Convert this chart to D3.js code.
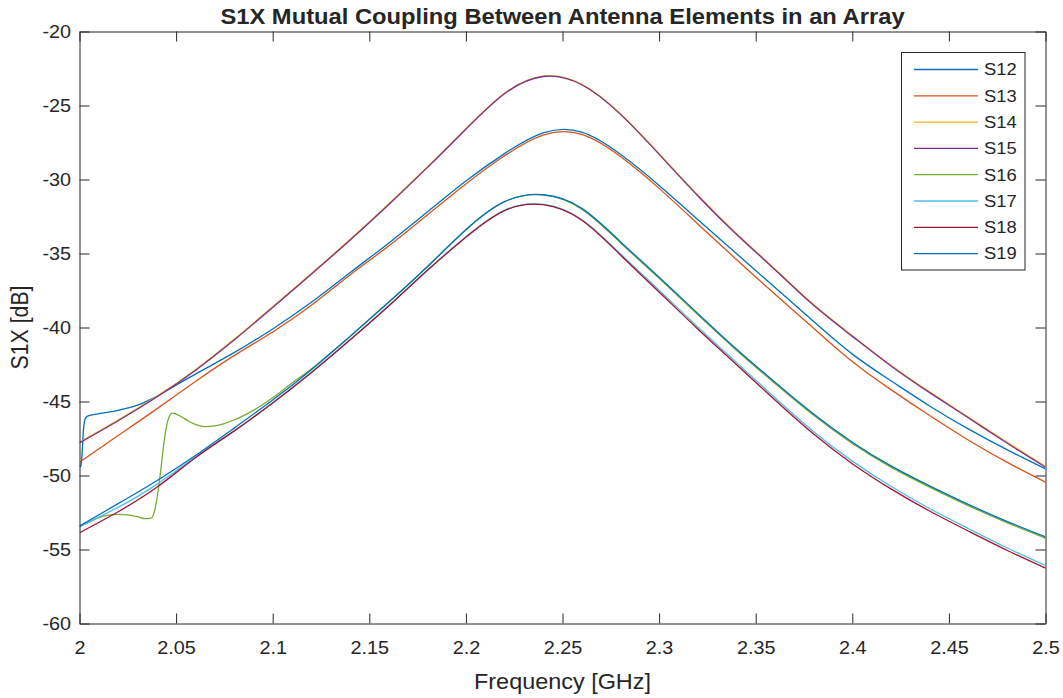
<!DOCTYPE html>
<html><head><meta charset="utf-8">
<script src="https://cdn.jsdelivr.net/npm/d3@7"></script>
<style>
body{margin:0;background:#fff;}
text{font-family:"Liberation Sans",Arial,Helvetica,sans-serif;fill:#262626;}
</style>
</head><body>
<svg id="chart" width="1063" height="698"></svg>
<script>
// ---------------- data ----------------
const freqBase = [2.00,2.02,2.04,2.06,2.08,2.10,2.12,2.14,2.16,2.18,2.20,2.22,2.24,2.26,2.28,2.30,2.32,2.34,2.36,2.38,2.40,2.42,2.44,2.46,2.48,2.50];

const freqS12 = [2.000,2.0005,2.001,2.0015,2.002,2.0025,2.003,2.004,2.006,2.01,2.02,2.03,2.04,
  2.06,2.08,2.10,2.12,2.14,2.16,2.18,2.20,2.22,2.24,2.26,2.28,2.30,2.32,2.34,2.36,2.38,2.40,2.42,2.44,2.46,2.48,2.50];
const valsS12 = [-49.3,-49.4,-49.1,-48.2,-47.0,-46.4,-46.15,-46.0,-45.92,-45.82,-45.6,-45.25,-44.65,
  -43.15,-41.7,-40.1,-38.3,-36.3,-34.3,-32.2,-30.1,-28.25,-26.85,-26.8,-28.3,-30.4,-32.7,-35.0,-37.3,-39.6,-41.8,-43.6,-45.3,-46.85,-48.25,-49.55];

const valsS13 = [-49.1,-47.3,-45.5,-43.65,-41.9,-40.3,-38.5,-36.45,-34.5,-32.4,-30.3,-28.4,-27.0,-26.95,-28.45,-30.6,-33.0,-35.4,-37.75,-40.05,-42.3,-44.2,-45.95,-47.6,-49.1,-50.45];
const valsS14 = [-47.75,-46.25,-44.65,-42.85,-40.8,-38.6,-36.35,-34.05,-31.65,-29.15,-26.56,-24.17,-23.01,-23.57,-25.56,-28.25,-31.05,-33.65,-36.05,-38.45,-40.55,-42.55,-44.35,-46.05,-47.74,-49.38];
const valsS15 = [-47.8,-46.3,-44.7,-42.9,-40.85,-38.65,-36.4,-34.1,-31.7,-29.2,-26.6,-24.2,-23.04,-23.6,-25.6,-28.3,-31.1,-33.7,-36.1,-38.5,-40.6,-42.6,-44.4,-46.1,-47.8,-49.44];

const freqS16 = [2.000,2.005,2.010,2.015,2.020,2.025,2.030,2.034,2.037,2.039,2.0405,2.042,2.0435,2.045,2.0465,2.048,2.050,2.053,2.056,2.060,2.065,2.070,2.080,2.090,2.100,2.110,2.120,2.130,2.140,
  2.16,2.18,2.20,2.22,2.24,2.26,2.28,2.30,2.32,2.34,2.36,2.38,2.40,2.42,2.44,2.46,2.48,2.50];
const valsS16 = [-53.45,-53.15,-52.85,-52.68,-52.62,-52.66,-52.78,-52.92,-52.88,-52.3,-51.2,-49.7,-48.0,-46.7,-46.0,-45.78,-45.85,-46.05,-46.3,-46.55,-46.7,-46.65,-46.25,-45.6,-44.75,-43.75,-42.8,-41.72,-40.62,
  -38.3,-35.9,-33.4,-31.5,-31.04,-32.0,-34.27,-36.68,-39.13,-41.53,-43.78,-45.93,-47.83,-49.43,-50.78,-52.03,-53.18,-54.23];

const valsS17 = [-53.45,-52.15,-50.6,-48.75,-46.98,-45.08,-43.03,-40.83,-38.53,-36.13,-33.87,-32.08,-31.68,-32.7,-35.02,-37.48,-39.96,-42.36,-44.75,-47.04,-49.03,-50.73,-52.23,-53.58,-54.88,-56.08];
const valsS18 = [-53.87,-52.45,-50.8,-48.8,-47.0,-45.1,-43.05,-40.85,-38.55,-36.15,-33.9,-32.1,-31.7,-32.75,-35.1,-37.6,-40.1,-42.5,-44.9,-47.2,-49.2,-50.9,-52.4,-53.75,-55.05,-56.26];
const valsS19 = [-53.42,-51.9,-50.35,-48.65,-46.8,-44.9,-42.85,-40.6,-38.3,-35.9,-33.4,-31.5,-31.03,-31.95,-34.2,-36.6,-39.05,-41.45,-43.7,-45.85,-47.75,-49.35,-50.7,-51.95,-53.1,-54.14];

const seriesNames = ["S12","S13","S14","S15","S16","S17","S18","S19"];
const seriesColors = ["#0072BD","#D95319","#EDB120","#7E2F8E","#77AC30","#4DBEEE","#A2142F","#0072BD"];
const xTicks = [2,2.05,2.1,2.15,2.2,2.25,2.3,2.35,2.4,2.45,2.5];
const yTicks = [-60,-55,-50,-45,-40,-35,-30,-25,-20];
const titleText = "S1X Mutual Coupling Between Antenna Elements in an Array";
const xLabelText = "Frequency [GHz]";
const yLabelText = "S1X [dB]";

// [frequencies, values, frequency where the fine-sampled part ends]
const seriesData = [
  [freqS12, valsS12, 2.04],
  [freqBase, valsS13, null],
  [freqBase, valsS14, null],
  [freqBase, valsS15, null],
  [freqS16, valsS16, 2.14],
  [freqBase, valsS17, null],
  [freqBase, valsS18, null],
  [freqBase, valsS19, null]
];

// ---------------- layout ----------------
const L = 79.5, R = 1045.5, T = 31.5, B = 623.5;
const SX = 1.1; // horizontal stretch of the reference's text
const svg = d3.select("#chart");
const x = d3.scaleLinear().domain([2, 2.5]).range([L, R]);
const y = d3.scaleLinear().domain([-60, -20]).range([B, T]);
const axisColor = "#262626";

svg.append("rect").attr("x",0).attr("y",0).attr("width",1063).attr("height",698).attr("fill","#fff");
svg.append("defs").append("clipPath").attr("id","clip")
  .append("rect").attr("x",L).attr("y",T).attr("width",R-L).attr("height",B-T);

// lines
const lineSmooth = d3.line().x(d => x(d[0])).y(d => y(d[1])).curve(d3.curveNatural);
const lineFine = d3.line().x(d => x(d[0])).y(d => y(d[1])).curve(d3.curveMonotoneX);
const gLines = svg.append("g").attr("clip-path","url(#clip)");
seriesData.forEach((s, i) => {
  const pts = s[0].map((f, k) => [f, s[1][k]]);
  const split = s[2];
  let d;
  if (split === null) {
    d = lineSmooth(pts);
  } else {
    const a = pts.filter(p => p[0] <= split + 1e-9);
    const b = pts.filter(p => p[0] >= split - 1e-9);
    d = lineFine(a) + lineSmooth(b).replace(/^M/, "L");
  }
  gLines.append("path").attr("d", d)
    .attr("fill","none").attr("stroke", seriesColors[i]).attr("stroke-width",1.3)
    .attr("stroke-linejoin","round");
});

// axes
function styleAxis(g){
  g.selectAll("path.domain").attr("stroke", axisColor).attr("stroke-width",1);
  g.selectAll(".tick line").attr("stroke", axisColor).attr("stroke-width",1);
  g.selectAll(".tick text").attr("fill", axisColor).style("font-size","18px")
    .style("font-family",'"Liberation Sans",Arial,sans-serif');
}
const fmtX = d => String(+d.toFixed(2));
const gx = svg.append("g").attr("transform",`translate(0,${B})`)
  .call(d3.axisBottom(x).tickValues(xTicks).tickFormat(fmtX).tickSizeInner(-10).tickSizeOuter(0).tickPadding(18))
  .call(styleAxis);
gx.selectAll(".tick text").attr("transform",`scale(${SX},1)`);
svg.append("g").attr("transform",`translate(0,${T})`)
  .call(d3.axisTop(x).tickValues(xTicks).tickFormat("").tickSizeInner(-10).tickSizeOuter(0))
  .call(styleAxis);
const gy = svg.append("g").attr("transform",`translate(${L},0)`)
  .call(d3.axisLeft(y).tickValues(yTicks).tickFormat(d => String(d)).tickSizeInner(-10).tickSizeOuter(0).tickPadding(8.5))
  .call(styleAxis);
gy.selectAll(".tick text").attr("x", -8.5 / SX).attr("transform",`scale(${SX},1)`);
svg.append("g").attr("transform",`translate(${R},0)`)
  .call(d3.axisRight(y).tickValues(yTicks).tickFormat("").tickSizeInner(-10).tickSizeOuter(0))
  .call(styleAxis);

// labels
svg.append("text").attr("transform",`translate(${(L+R)/2},24) scale(${SX},1)`).attr("text-anchor","middle")
  .style("font-size","21.6px").style("font-weight","bold").attr("fill","#000").text(titleText);
svg.append("text").attr("transform",`translate(${(L+R)/2},689) scale(${SX},1)`).attr("text-anchor","middle")
  .style("font-size","21.3px").text(xLabelText);
svg.append("text").attr("transform",`translate(28,${(T+B)/2}) scale(${SX},1) rotate(-90)`).attr("text-anchor","middle")
  .style("font-size","21.3px").text(yLabelText);

// legend
const lg = svg.append("g");
lg.append("rect").attr("x",901.5).attr("y",52.5).attr("width",123.5).attr("height",217.5)
  .attr("fill","#fff").attr("stroke",axisColor).attr("stroke-width",1);
seriesNames.forEach((n, i) => {
  const yy = 69.5 + i * 26.3;
  lg.append("line").attr("x1",914).attr("x2",978).attr("y1",yy).attr("y2",yy)
    .attr("stroke",seriesColors[i]).attr("stroke-width",1.3);
  lg.append("text").attr("transform",`translate(984,${yy}) scale(${SX},1)`).attr("dy","0.35em")
    .style("font-size","16.7px").text(n);
});
</script>
</body></html>
